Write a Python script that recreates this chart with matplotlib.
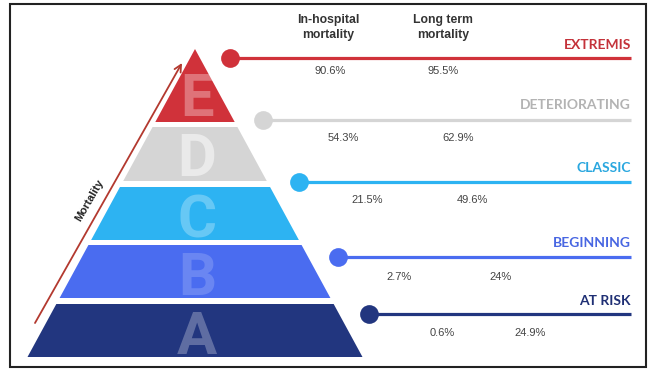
import matplotlib
matplotlib.use("Agg")
import matplotlib.pyplot as plt
from matplotlib.patches import Polygon, Rectangle

# Stages of the pyramid, bottom to top
levels = ["A", "B", "C", "D", "E"]
stage_names = ["AT RISK", "BEGINNING", "CLASSIC", "DETERIORATING", "EXTREMIS"]
in_hospital = [0.6, 2.7, 21.5, 54.3, 90.6]
long_term = [24.9, 24, 49.6, 62.9, 95.5]
col_headers = ["In-hospital\nmortality", "Long term\nmortality"]

# Styling
layer_colors = ["#22367f", "#4a6cf0", "#2db3f2", "#d5d5d5", "#d0323a"]
label_colors = ["#1f2f74", "#4866e2", "#2aa7df", "#b3b3b3", "#c4323a"]
letter_alpha = [0.28, 0.18, 0.28, 0.5, 0.32]

# Layout (pixel canvas)
W, H = 649, 369
apex = (195, 49)
base_y, base_half = 357, 167.5
layer_top = [304, 245, 187, 127, 49]
layer_bot = [357, 298, 240, 181, 122]
letter_base = [354, 295, 238, 176, 116]
line_y = [314, 257, 182, 120, 58]
dot_x = [369, 338, 299, 263, 230]
label_y = [301, 243, 168, 105, 45]
pct1_x = [442, 399, 367, 343, 330]
pct2_x = [530, 501, 472, 458, 443]
pct_y = [333, 277, 200, 138, 71]
line_end = 631

fig = plt.figure(figsize=(W / 100, H / 100), dpi=100)
ax = fig.add_axes([0, 0, 1, 1])
ax.set_xlim(0, W)
ax.set_ylim(H, 0)
ax.axis("off")


def half_width(y):
    return base_half * (y - apex[1]) / (base_y - apex[1])


for i, lv in enumerate(levels):
    t, b = layer_top[i], layer_bot[i]
    ht, hb = half_width(t), half_width(b)
    cx = apex[0]
    pts = [(cx - hb, b), (cx + hb, b), (cx + ht, t), (cx - ht, t)]
    ax.add_patch(Polygon(pts, closed=True, facecolor=layer_colors[i],
                         edgecolor="none", zorder=2))
    ax.text(cx + 2, letter_base[i], lv, ha="center", va="baseline",
            fontsize=43, fontweight="bold", color="white",
            alpha=letter_alpha[i], family=["Roboto", "DejaVu Sans"],
            zorder=3)

    # connector line with dot
    ax.plot([dot_x[i], line_end], [line_y[i], line_y[i]], color=layer_colors[i],
            lw=2.3, solid_capstyle="butt", zorder=3)
    ax.plot(dot_x[i], line_y[i], "o", color=layer_colors[i], markersize=13.5,
            markeredgewidth=0, zorder=4)

    # stage name
    ax.text(line_end, label_y[i], stage_names[i], ha="right", va="center",
            fontsize=10, fontweight="bold", color=label_colors[i],
            family=["Lato", "DejaVu Sans"], zorder=4)

    # mortality values
    ax.text(pct1_x[i], pct_y[i], f"{in_hospital[i]:g}%", ha="center", va="center",
            fontsize=8, color="#444444", family=["Liberation Sans", "DejaVu Sans"])
    ax.text(pct2_x[i], pct_y[i], f"{long_term[i]:g}%", ha="center", va="center",
            fontsize=8, color="#444444", family=["Liberation Sans", "DejaVu Sans"])

# column headers
for hx, txt in zip([328, 443], col_headers):
    ax.text(hx, 27.5, txt, ha="center", va="center", fontsize=8.8, fontweight="bold",
            color="#333333", linespacing=1.35, family=["Liberation Sans", "DejaVu Sans"])

# mortality arrow along the pyramid side
ax.annotate("", xy=(182, 63), xytext=(35, 323),
            arrowprops=dict(arrowstyle="->,head_length=0.5,head_width=0.25",
                            color="#b3392f", lw=1.3, shrinkA=0, shrinkB=0))
ax.text(90, 200, "Mortality", rotation=60, ha="center", va="center",
        fontsize=8, fontweight="bold", color="#222222",
        family=["Liberation Sans", "DejaVu Sans"], rotation_mode="anchor")

# outer frame
ax.add_patch(Rectangle((10, 4), 636, 363, fill=False, edgecolor="#222222",
                       lw=1.5, zorder=5))

fig.savefig("out.png", dpi=100)
